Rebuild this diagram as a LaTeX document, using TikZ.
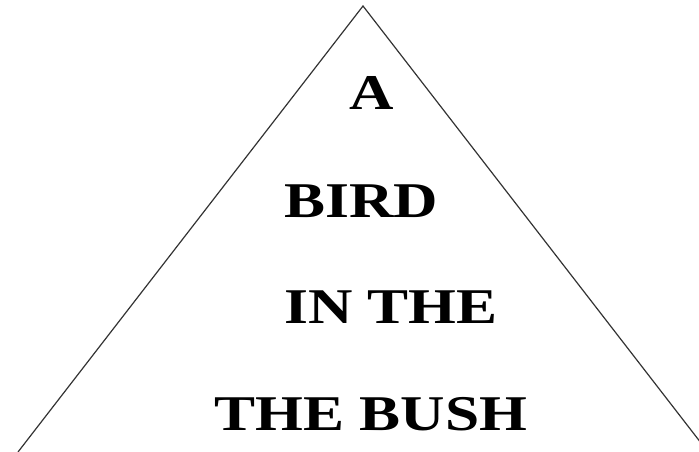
\documentclass[tikz,border=0pt]{standalone}
\usepackage{fontspec}
\setmainfont{Liberation Serif}
\usetikzlibrary{positioning}

\begin{document}
\begin{tikzpicture}[x=1pt,y=-1pt,
    word/.style={font=\fontsize{50}{50}\selectfont\bfseries,inner sep=0pt,anchor=base,xscale=1.23,transform shape}]
			\useasboundingbox (0,0) rectangle (699,452);
			% triangle
			\coordinate (apex) at (363,6);
			\coordinate (lft) at (18,452);
			\coordinate (rgt) at (708,452);
			\begin{scope}
				\clip (0,0) rectangle (699,452);
				\draw[black!80,line width=1.2pt] (lft) -- (apex) -- (rgt);
			\end{scope}
			% words
			\node[word] (wa) at (372,110) {A};
			\node[word] (wbird) at (361,217) {BIRD};
			\node[word] (winthe) at (391,323) {IN THE};
			\node[word] (wbush) at (371,430) {THE BUSH};
		\end{tikzpicture}
\end{document}
